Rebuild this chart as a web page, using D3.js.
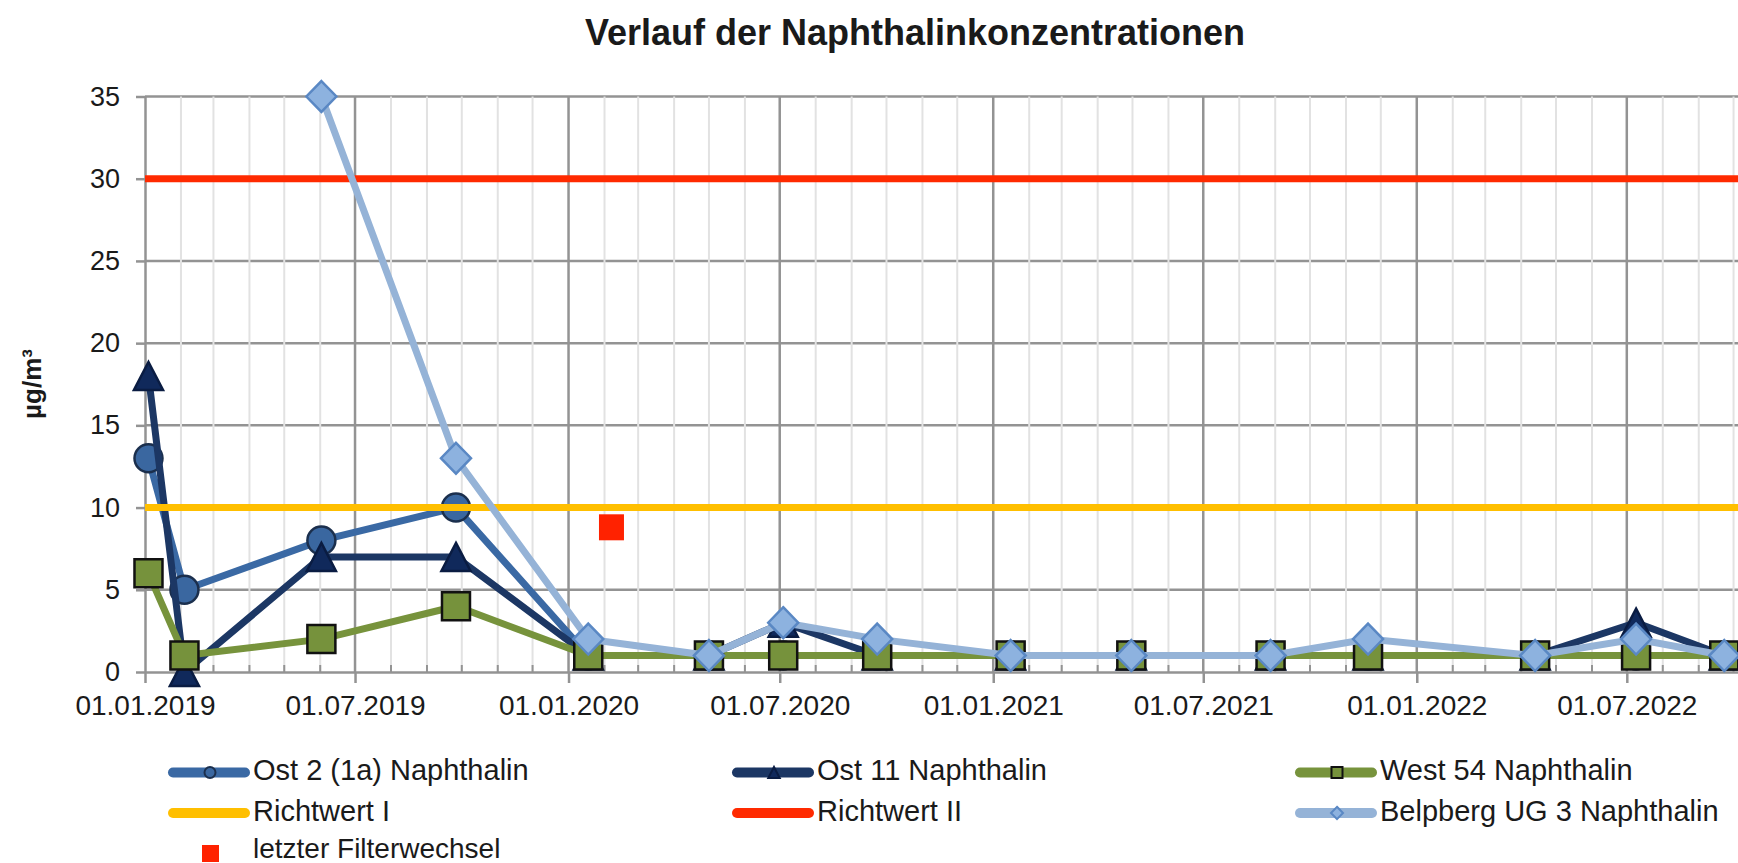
<!DOCTYPE html>
<html>
<head>
<meta charset="utf-8">
<script src="https://cdn.jsdelivr.net/npm/d3@7"></script>
<style>
  body { margin: 0; background: #fff; }
  svg { display: block; font-family: "Liberation Sans", Arial, sans-serif; }
</style>
</head>
<body>
<svg id="chart" width="1738" height="863"></svg>
<script>
// Messzeitpunkte (gemeinsam fuer alle Messstellen)
const sampleDates = ["2019-01-04", "2019-02-04", "2019-06-02", "2019-09-26", "2020-01-18",
  "2020-05-01", "2020-07-04", "2020-09-23", "2021-01-16", "2021-04-30", "2021-08-28",
  "2021-11-20", "2022-04-13", "2022-07-09", "2022-09-23"];

// Naphthalinwerte in µg/m³ (null = nicht gemessen)
const ost2 = [13, 5, 8, 10, 1, 1, 1, 1, 1, 1, 1, 1, 1, 1, 1];
const ost11 = [18, 0, 7, 7, 1, 1, 3, 1, 1, 1, 1, 1, 1, 3, 1];
const west54 = [6, 1, 2, 4, 1, 1, 1, 1, 1, 1, 1, 1, 1, 1, 1];
const belpberg = [null, null, 35, 13, 2, 1, 3, 2, 1, 1, 1, 2, 1, 2, 1];

// Richtwerte und letzter Filterwechsel
const richtwertI = 10;
const richtwertII = 30;
const filterDate = "2020-02-07";
const filterValue = 8.8;

// Achsen
const yTicks = [0, 5, 10, 15, 20, 25, 30, 35];
const axisStart = "2019-01-01";
const axisEnd = "2022-10-10";

const parseDate = d3.timeParse("%Y-%m-%d");
const fmtDate = d3.timeFormat("%d.%m.%Y");

const svg = d3.select("#chart");

const x = d3.scaleTime()
  .domain([parseDate(axisStart), parseDate(axisEnd)])
  .range([145, 1744]);
const y = d3.scaleLinear().domain([0, 35]).range([672, 96.5]);

// Titel
svg.append("text")
  .attr("x", 915).attr("y", 45)
  .attr("text-anchor", "middle")
  .attr("font-size", 36).attr("font-weight", "bold")
  .attr("fill", "#1a1a1a")
  .text("Verlauf der Naphthalinkonzentrationen");

// Gitterlinien
var grid = svg.append("g");
grid.selectAll(".hgrid")
  .data(yTicks.filter((d) => d > 0))
  .join("line")
  .attr("class", "hgrid")
  .attr("x1", x.range()[0]).attr("x2", x.range()[1])
  .attr("y1", (d) => y(d)).attr("y2", (d) => y(d))
  .attr("stroke", "#939393").attr("stroke-width", 2.5);

var allMonths = d3.timeMonth.range(x.domain()[0], x.domain()[1]);
var majorMonths = d3.timeMonth.every(6).range(x.domain()[0], x.domain()[1]);
var minorMonths = allMonths.filter((d) => d.getMonth() % 6 != 0);

grid.selectAll(".vminor")
  .data(minorMonths)
  .join("line")
  .attr("class", "vminor")
  .attr("x1", (d) => x(d)).attr("x2", (d) => x(d))
  .attr("y1", y(35)).attr("y2", y(0))
  .attr("stroke", "#e2e2e2").attr("stroke-width", 2);

grid.selectAll(".vmajor")
  .data(majorMonths.filter((d) => +d != +x.domain()[0]))
  .join("line")
  .attr("class", "vmajor")
  .attr("x1", (d) => x(d)).attr("x2", (d) => x(d))
  .attr("y1", y(35)).attr("y2", y(0))
  .attr("stroke", "#939393").attr("stroke-width", 2.5);

// kleine Monatsstriche an der x-Achse
grid.selectAll(".mtick")
  .data(minorMonths)
  .join("line")
  .attr("class", "mtick")
  .attr("x1", (d) => x(d)).attr("x2", (d) => x(d))
  .attr("y1", y(0) - 7).attr("y2", y(0))
  .attr("stroke", "#939393").attr("stroke-width", 2);

// Achsen
var yAxis = svg.append("g")
  .attr("transform", `translate(${x.range()[0]},0)`)
  .call(d3.axisLeft(y).tickValues(yTicks).tickSize(9).tickSizeOuter(0).tickPadding(16));
var xAxis = svg.append("g")
  .attr("transform", `translate(0,${y(0)})`)
  .call(d3.axisBottom(x).tickValues(majorMonths).tickFormat(fmtDate).tickSize(11).tickSizeOuter(0));

[yAxis, xAxis].forEach((a) => {
  a.select(".domain").attr("stroke", "#939393").attr("stroke-width", 2.5);
  a.selectAll(".tick line").attr("stroke", "#939393").attr("stroke-width", 2.5);
  a.selectAll(".tick text").attr("fill", "#1a1a1a").attr("font-family", "Liberation Sans, Arial, sans-serif");
});
yAxis.selectAll(".tick text").attr("font-size", 27).attr("x", -25);
xAxis.selectAll(".tick text").attr("font-size", 28).attr("y", 43).attr("dy", 0);

// y-Achsentitel
svg.append("text")
  .attr("transform", "translate(41,384) rotate(-90)")
  .attr("text-anchor", "middle")
  .attr("font-size", 26).attr("font-weight", "bold")
  .attr("fill", "#1a1a1a")
  .text("µg/m³");

// Markerformen
function markerPath(type, s) {
  if (type == "circle") {
    return d3.arc()({ innerRadius: 0, outerRadius: s, startAngle: 0, endAngle: 2 * Math.PI });
  }
  if (type == "triangle") return `M0,${-s}L${s * 1.04},${s}L${-s * 1.04},${s}Z`;
  if (type == "square") return `M${-s},${-s}H${s}V${s}H${-s}Z`;
  if (type == "diamond") return `M0,${-s * 1.03}L${s},0L0,${s * 1.03}L${-s},0Z`;
  return "";
}

// Messreihen (Zeichenreihenfolge wie im Original)
var seriesList = [
  { name: "Ost 2 (1a) Naphthalin", values: ost2, color: "#3a69a4", marker: "circle", size: 14,
    fill: "#3a67a0", stroke: "#1b2f4d" },
  { name: "Ost 11 Naphthalin", values: ost11, color: "#1c3764", marker: "triangle", size: 14,
    fill: "#10295b", stroke: "#0a1c42" },
  { name: "West 54 Naphthalin", values: west54, color: "#77933c", marker: "square", size: 14,
    fill: "#76923c", stroke: "#111" },
];
var limitList = [
  { name: "Richtwert I", value: richtwertI, color: "#ffbf00" },
  { name: "Richtwert II", value: richtwertII, color: "#ff2a00" },
];
var belpSeries = { name: "Belpberg UG 3 Naphthalin", values: belpberg, color: "#95b3d7",
  marker: "diamond", size: 15, fill: "#8db2df", stroke: "#5a88c4" };

var line = d3.line()
  .defined((d) => d.v != null)
  .x((d) => x(d.date))
  .y((d) => y(d.v));

function drawSeries(s) {
  var pts = sampleDates.map((d, i) => ({ date: parseDate(d), v: s.values[i] }));
  var g = svg.append("g");
  g.append("path")
    .datum(pts)
    .attr("d", line)
    .attr("fill", "none")
    .attr("stroke", s.color)
    .attr("stroke-width", 7)
    .attr("stroke-linejoin", "miter");
  g.selectAll("path.mk")
    .data(pts.filter((d) => d.v != null))
    .join("path")
    .attr("class", "mk")
    .attr("transform", (d) => `translate(${x(d.date)},${y(d.v)})`)
    .attr("d", markerPath(s.marker, s.size))
    .attr("fill", s.fill)
    .attr("stroke", s.stroke)
    .attr("stroke-width", 2.5);
}

seriesList.forEach(drawSeries);

svg.append("g").selectAll("line")
  .data(limitList)
  .join("line")
  .attr("x1", x.range()[0]).attr("x2", x.range()[1])
  .attr("y1", (d) => y(d.value)).attr("y2", (d) => y(d.value))
  .attr("stroke", (d) => d.color)
  .attr("stroke-width", 7);

drawSeries(belpSeries);

// letzter Filterwechsel
svg.append("rect")
  .attr("x", x(parseDate(filterDate)) - 12.5)
  .attr("y", y(filterValue) - 13)
  .attr("width", 25).attr("height", 26)
  .attr("fill", "#ff2200");

// Legende
var legendItems = [
  { s: seriesList[0], col: 0, row: 0 },
  { s: seriesList[1], col: 1, row: 0 },
  { s: seriesList[2], col: 2, row: 0 },
  { s: limitList[0], col: 0, row: 1 },
  { s: limitList[1], col: 1, row: 1 },
  { s: belpSeries, col: 2, row: 1 },
  { s: { name: "letzter Filterwechsel", color: "#ff2200", filter: true }, col: 0, row: 2 },
];
var colX = [168, 732, 1295];
var rowY = [772.5, 813, 850];

var legend = svg.append("g");
legendItems.forEach((it) => {
  var lx = colX[it.col];
  var ly = rowY[it.row];
  var g = legend.append("g").attr("transform", `translate(${lx},${ly})`);
  if (it.s.filter) {
    g.append("rect").attr("x", 34).attr("y", -5).attr("width", 17).attr("height", 17)
      .attr("fill", it.s.color);
  } else {
    g.append("line").attr("x1", 5).attr("x2", 77).attr("y1", 0).attr("y2", 0)
      .attr("stroke", it.s.color).attr("stroke-width", 10).attr("stroke-linecap", "round");
    if (it.s.marker) {
      g.append("path")
        .attr("transform", "translate(42,0)")
        .attr("d", markerPath(it.s.marker, it.s.marker == "diamond" ? 6 : 5.5))
        .attr("fill", it.s.fill).attr("stroke", it.s.stroke).attr("stroke-width", 2);
    }
  }
  g.append("text")
    .attr("x", 85).attr("y", 7.5)
    .attr("font-size", it.s.filter ? 28 : 29)
    .attr("fill", "#1a1a1a")
    .text(it.s.name);
});
</script>
</body>
</html>
